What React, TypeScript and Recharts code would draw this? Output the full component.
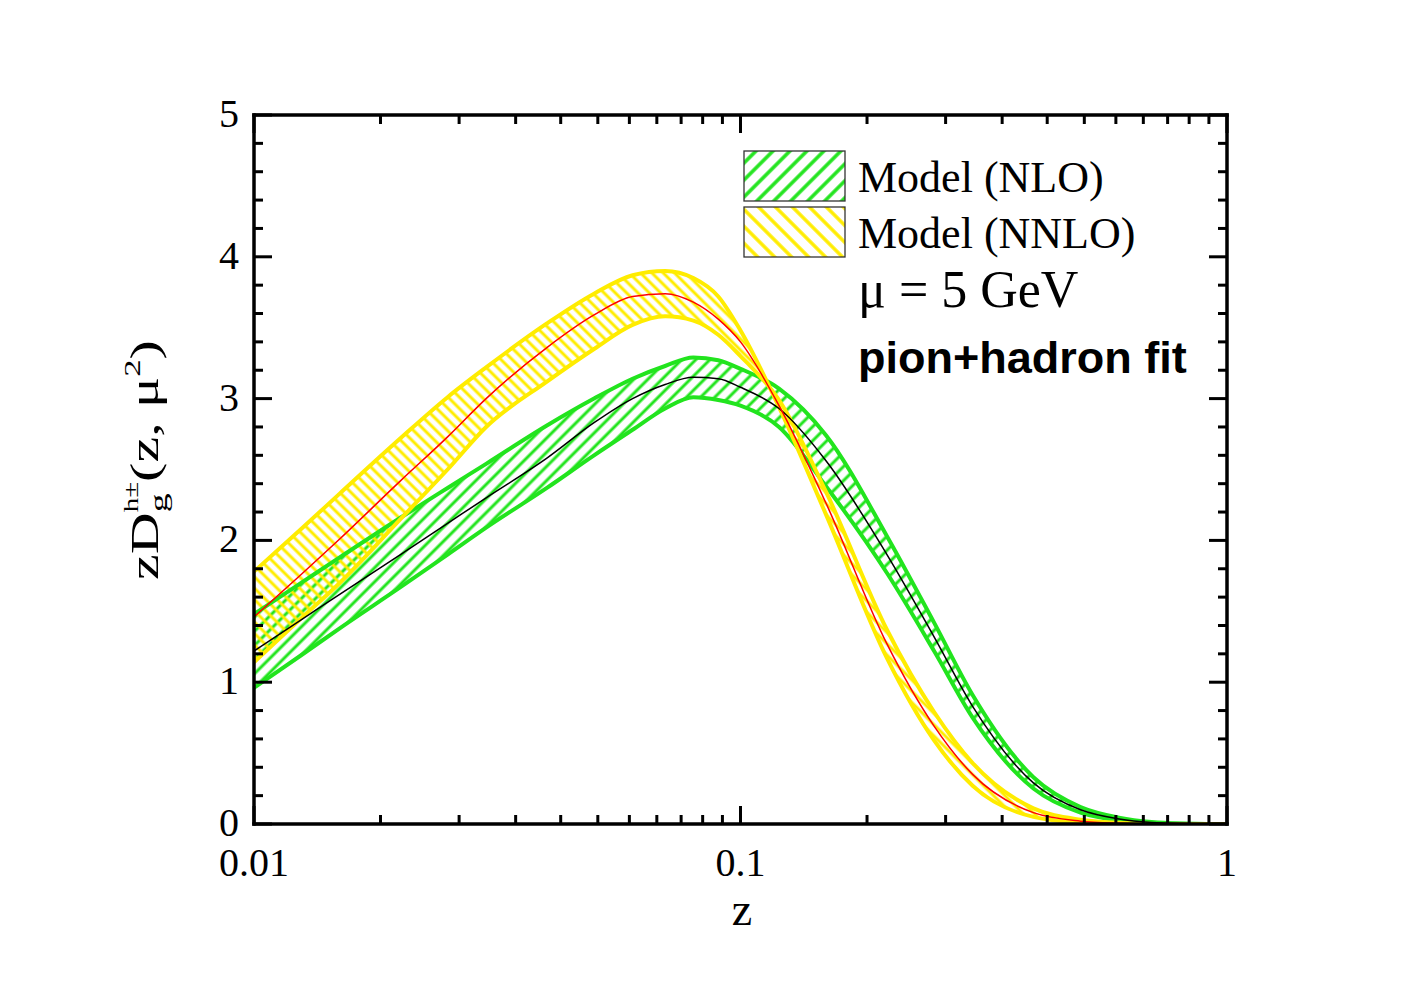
import React from "react";
import { Area, ComposedChart, Line, XAxis, YAxis } from "recharts";

// momentum fraction grid (log spaced)
const zValues = [
  0.01, 0.0125, 0.015, 0.02, 0.025, 0.03, 0.04, 0.05, 0.06, 0.07, 0.08, 0.09,
  0.1, 0.12, 0.15, 0.2, 0.25, 0.3, 0.4, 0.5, 0.6, 0.7, 0.8, 1,
];

// NLO gluon FF: central value and uncertainty band edges
const nloCentral = [
  1.22, 1.44, 1.62, 1.9, 2.12, 2.3, 2.58, 2.83, 3.0, 3.1, 3.15, 3.14, 3.08,
  2.93, 2.56, 1.9, 1.32, 0.83, 0.29, 0.1, 0.035, 0.01, 0.003, 0,
];
const nloUpper = [
  1.48, 1.7, 1.88, 2.16, 2.37, 2.54, 2.81, 3.0, 3.14, 3.23, 3.29, 3.27, 3.21,
  3.07, 2.74, 2.03, 1.42, 0.91, 0.33, 0.12, 0.045, 0.014, 0.004, 0,
];
const nloLower = [
  0.96, 1.19, 1.38, 1.67, 1.9, 2.09, 2.37, 2.6, 2.78, 2.93, 3.01, 2.99, 2.95,
  2.8, 2.38, 1.77, 1.22, 0.75, 0.25, 0.08, 0.025, 0.006, 0.002, 0,
];

// NNLO gluon FF
const nnloCentral = [
  1.46, 1.76, 2.01, 2.42, 2.73, 3.0, 3.36, 3.59, 3.72, 3.74, 3.68, 3.56, 3.4,
  2.95, 2.26, 1.27, 0.69, 0.35, 0.08, 0.02, 0.005, 0, 0, 0,
];
const nnloUpper = [
  1.78, 2.08, 2.33, 2.72, 3.01, 3.22, 3.53, 3.74, 3.87, 3.9, 3.85, 3.72, 3.48,
  2.94, 2.18, 1.17, 0.59, 0.27, 0.05, 0.01, 0.002, 0, 0, 0,
];
const nnloLower = [
  1.14, 1.45, 1.7, 2.15, 2.5, 2.8, 3.12, 3.35, 3.52, 3.58, 3.55, 3.45, 3.3,
  2.99, 2.34, 1.37, 0.79, 0.43, 0.11, 0.03, 0.008, 0, 0, 0,
];

// axis ticks
const xMajorTicks = [0.01, 0.1, 1];
const xTickLabels = ["0.01", "0.1", "1"];
const xMinorTicks = [
  0.0182, 0.0264, 0.0345, 0.0427, 0.0509, 0.0591, 0.0673, 0.0755, 0.0836,
  0.0918, 0.182, 0.264, 0.345, 0.427, 0.509, 0.591, 0.673, 0.755, 0.836, 0.918,
];
const yMajorTicks = [0, 1, 2, 3, 4, 5];
const yMinorTicks = [
  0.2, 0.4, 0.6, 0.8, 1.2, 1.4, 1.6, 1.8, 2.2, 2.4, 2.6, 2.8, 3.2, 3.4, 3.6,
  3.8, 4.2, 4.4, 4.6, 4.8,
];

const GREEN = "#22e41e";
const YELLOW = "#ffec00";
const SERIF = '"Liberation Serif", "Times New Roman", serif';
const SANS = '"Liberation Sans", Arial, sans-serif';

const W = 1412;
const H = 960;
const MAJOR = 18;
const MINOR = 9;

const rows = zValues.map((z, i) => ({
  z,
  nlo: nloCentral[i],
  nloHi: nloUpper[i],
  nloLo: nloLower[i],
  nloBand: [nloLower[i], nloUpper[i]],
  nnlo: nnloCentral[i],
  nnloHi: nnloUpper[i],
  nnloLo: nnloLower[i],
  nnloBand: [nnloLower[i], nnloUpper[i]],
}));

const xIdx = (v: number) => xMajorTicks.findIndex((t) => Math.abs(t - v) < 1e-9);
const isMajorY = (v: number) => Math.abs(v - Math.round(v)) < 1e-6;

function BottomTick({ x, y, payload }: any) {
  const i = xIdx(payload.value);
  return (
    <g>
      <line x1={x} y1={y} x2={x} y2={y - (i >= 0 ? MAJOR : MINOR)} stroke="#000" strokeWidth={3} />
      {i >= 0 && (
        <text x={x} y={y + 52} textAnchor="middle" fontFamily={SERIF} fontSize={40} fill="#000">
          {xTickLabels[i]}
        </text>
      )}
    </g>
  );
}

function TopTick({ x, y, payload }: any) {
  const i = xIdx(payload.value);
  return <line x1={x} y1={y} x2={x} y2={y + (i >= 0 ? MAJOR : MINOR)} stroke="#000" strokeWidth={3} />;
}

function LeftTick({ x, y, payload }: any) {
  const major = isMajorY(payload.value);
  return (
    <g>
      <line x1={x} y1={y} x2={x + (major ? MAJOR : MINOR)} y2={y} stroke="#000" strokeWidth={3} />
      {major && (
        <text x={x - 15} y={y + 12} textAnchor="end" fontFamily={SERIF} fontSize={40} fill="#000">
          {Math.round(payload.value)}
        </text>
      )}
    </g>
  );
}

function RightTick({ x, y, payload }: any) {
  const major = isMajorY(payload.value);
  return <line x1={x} y1={y} x2={x - (major ? MAJOR : MINOR)} y2={y} stroke="#000" strokeWidth={3} />;
}

// hatch tile: one line through the middle of the tile, rotated
function Hatch({ id, color, gap, angle, width }: { id: string; color: string; gap: number; angle: number; width: number }) {
  return (
    <pattern id={id} patternUnits="userSpaceOnUse" width={gap} height={gap} patternTransform={`rotate(${angle})`}>
      <line x1={gap / 2} y1={0} x2={gap / 2} y2={gap} stroke={color} strokeWidth={width} />
    </pattern>
  );
}

const frame = { stroke: "#000", strokeWidth: 3.5, strokeLinecap: "square" as const };
const xTicks = [...xMajorTicks, ...xMinorTicks].sort((a, b) => a - b);
const yTicks = [...yMajorTicks, ...yMinorTicks].sort((a, b) => a - b);

export default function App() {
  return (
    <div style={{ position: "relative", width: W, height: H }}>
      <ComposedChart
        width={W}
        height={H}
        data={rows}
        margin={{ top: 97, right: 183, bottom: 84, left: 186 }}
      >
        <defs>
          <Hatch id="hatchNlo" color={GREEN} gap={10} angle={45} width={3} />
          <Hatch id="hatchNnlo" color={YELLOW} gap={8} angle={-45} width={3} />
        </defs>
        <XAxis
          dataKey="z"
          type="number"
          scale="log"
          domain={[0.01, 1]}
          allowDataOverflow
          ticks={xTicks}
          interval={0}
          tickSize={0}
          tickMargin={0}
          tickLine={false}
          axisLine={frame}
          height={60}
          tick={(p: any) => <BottomTick {...p} />}
        />
        <XAxis
          xAxisId="top"
          orientation="top"
          dataKey="z"
          type="number"
          scale="log"
          domain={[0.01, 1]}
          allowDataOverflow
          ticks={xTicks}
          interval={0}
          tickSize={0}
          tickMargin={0}
          tickLine={false}
          axisLine={frame}
          height={10}
          tick={(p: any) => <TopTick {...p} />}
        />
        <YAxis
          type="number"
          domain={[0, 5]}
          allowDataOverflow
          ticks={yTicks}
          interval={0}
          tickSize={0}
          tickMargin={0}
          tickLine={false}
          axisLine={frame}
          width={60}
          tick={(p: any) => <LeftTick {...p} />}
        />
        <YAxis
          yAxisId="right"
          orientation="right"
          type="number"
          domain={[0, 5]}
          allowDataOverflow
          ticks={yTicks}
          interval={0}
          tickSize={0}
          tickMargin={0}
          tickLine={false}
          axisLine={frame}
          width={10}
          tick={(p: any) => <RightTick {...p} />}
        />

        {/* NLO band */}
        <Area dataKey="nloBand" type="monotone" stroke="none" fill="url(#hatchNlo)" fillOpacity={1} isAnimationActive={false} />
        <Line dataKey="nloHi" type="monotone" stroke={GREEN} strokeWidth={4} dot={false} isAnimationActive={false} />
        <Line dataKey="nloLo" type="monotone" stroke={GREEN} strokeWidth={4} dot={false} isAnimationActive={false} />

        {/* NNLO band */}
        <Area dataKey="nnloBand" type="monotone" stroke="none" fill="url(#hatchNnlo)" fillOpacity={1} isAnimationActive={false} />
        <Line dataKey="nnloHi" type="monotone" stroke={YELLOW} strokeWidth={4} dot={false} isAnimationActive={false} />
        <Line dataKey="nnloLo" type="monotone" stroke={YELLOW} strokeWidth={4} dot={false} isAnimationActive={false} />

        {/* central fits */}
        <Line dataKey="nlo" type="monotone" stroke="#000" strokeWidth={1.5} dot={false} isAnimationActive={false} />
        <Line dataKey="nnlo" type="monotone" stroke="#ff0000" strokeWidth={1.5} dot={false} isAnimationActive={false} />
      </ComposedChart>

      <svg
        width={W}
        height={H}
        style={{ position: "absolute", left: 0, top: 0, pointerEvents: "none" }}
      >
        <defs>
          <Hatch id="legNlo" color={GREEN} gap={12} angle={45} width={3.5} />
          <Hatch id="legNnlo" color={YELLOW} gap={12} angle={-45} width={3.5} />
        </defs>

        <rect x={736} y={143} width={101} height={50} fill="#fff" />
        <rect x={736} y={143} width={101} height={50} fill="url(#legNlo)" stroke="#333" strokeWidth={1.3} />
        <rect x={736} y={199} width={101} height={50} fill="#fff" />
        <rect x={736} y={199} width={101} height={50} fill="url(#legNnlo)" stroke="#333" strokeWidth={1.3} />
        <text x={850} y={184} fontFamily={SERIF} fontSize={44} fill="#000">Model (NLO)</text>
        <text x={850} y={240} fontFamily={SERIF} fontSize={44} fill="#000">Model (NNLO)</text>
        <text x={850} y={299} fontFamily={SERIF} fontSize={52} fill="#000">μ = 5 GeV</text>
        <text x={850} y={365} fontFamily={SANS} fontWeight="bold" fontSize={45} fill="#000">pion+hadron fit</text>

        {/* axis titles */}
        <text x={734} y={917} textAnchor="middle" fontFamily={SERIF} fontSize={46} fill="#000">z</text>
        <text
          transform="translate(150, 452) rotate(-90) scale(1.45, 1)"
          textAnchor="middle"
          fontFamily={SERIF}
          fontSize={40}
          fill="#000"
        >
          zD
          <tspan fontSize={26} dy={9}>g</tspan>
          <tspan fontSize={20} dx={-13} dy={-29}>h±</tspan>
          <tspan fontSize={40} dy={20}>(z, μ</tspan>
          <tspan fontSize={24} dy={-18}>2</tspan>
          <tspan fontSize={40} dy={18}>)</tspan>
        </text>
      </svg>
    </div>
  );
}
